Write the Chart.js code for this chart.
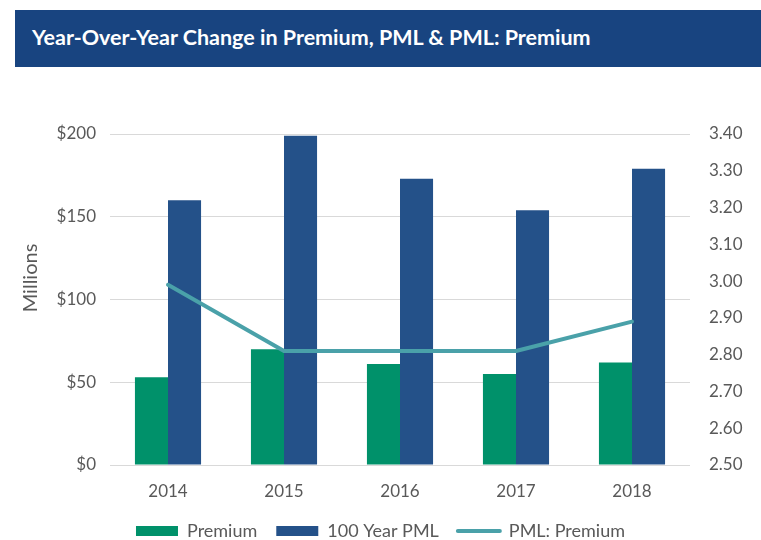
<!DOCTYPE html>
<html>
<head>
<meta charset="utf-8">
<script src="https://cdn.jsdelivr.net/npm/chart.js@4.4.1/dist/chart.umd.min.js"></script>
<style>
  html, body { margin: 0; padding: 0; background: #ffffff; }
  #wrap { position: relative; width: 761px; height: 540px; overflow: hidden; }
  #banner { position: absolute; left: 15px; top: 10px; width: 746px; height: 57px; background: #184480; }
  #banner span { position: absolute; left: 17px; top: 14px; color: #ffffff; font-family: Lato, "DejaVu Sans", sans-serif; font-weight: bold; font-size: 21.5px; white-space: nowrap; }
  #c { position: absolute; left: 0; top: 0; }
</style>
</head>
<body>
<div id="wrap">
  <canvas id="c" width="761" height="560"></canvas>
  <div id="banner"><span>Year-Over-Year Change in Premium, PML &amp; PML: Premium</span></div>
</div>
<script>
const years = ["2014", "2015", "2016", "2017", "2018"];
const premium = [53, 70, 61, 55, 62];
const pml100 = [160, 199, 173, 154, 179];
const pmlRatio = [2.99, 2.81, 2.81, 2.81, 2.89];
const leftTicks = [0, 50, 100, 150, 200];
const rightTicks = [2.5, 2.6, 2.7, 2.8, 2.9, 3.0, 3.1, 3.2, 3.3, 3.4];

const GREEN = "#00916a";
const BLUE = "#245189";
const TEAL = "#4aa1a9";
const TXT = "#595959";
const FONT = "Lato, 'Open Sans', sans-serif";

const millionsTitle = {
  id: "millionsTitle",
  afterDraw(chart) {
    const ctx = chart.ctx;
    ctx.save();
    ctx.translate(31, 278);
    ctx.rotate(-Math.PI / 2);
    ctx.font = "20px " + FONT;
    ctx.fillStyle = TXT;
    ctx.textAlign = "center";
    ctx.textBaseline = "middle";
    ctx.fillText("Millions", 0, 0);
    ctx.restore();
  }
};

new Chart(document.getElementById("c"), {
  type: "bar",
  data: {
    labels: years,
    datasets: [
      { label: "PML: Premium", type: "line", data: pmlRatio, yAxisID: "y2",
        borderColor: TEAL, backgroundColor: TEAL, borderWidth: 4, pointRadius: 0,
        tension: 0, order: 0, borderCapStyle: "round", borderJoinStyle: "round" },
      { label: "Premium", data: premium, yAxisID: "y", backgroundColor: GREEN, order: 1 },
      { label: "100 Year PML", data: pml100, yAxisID: "y", backgroundColor: BLUE, order: 1 }
    ]
  },
  options: {
    responsive: false,
    animation: false,
    devicePixelRatio: 1,
    layout: { padding: { top: 134, left: 0, right: 0, bottom: 10 } },
    datasets: { bar: { categoryPercentage: 0.57, barPercentage: 1.0 } },
    plugins: {
      tooltip: { enabled: false },
      legend: {
        position: "bottom",
        labels: {
          font: { family: FONT, size: 18 },
          color: TXT,
          usePointStyle: true,
          pointStyleWidth: 42,
          boxHeight: 10,
          padding: 19,
          sort: (a, b) => [1, 2, 0].indexOf(a.datasetIndex) - [1, 2, 0].indexOf(b.datasetIndex),
          generateLabels(chart) {
            const items = Chart.defaults.plugins.legend.labels.generateLabels(chart);
            items.forEach(it => {
              const ds = chart.data.datasets[it.datasetIndex];
              if (ds.type === "line") {
                it.pointStyle = "line"; it.strokeStyle = TEAL; it.lineWidth = 4; it.lineCap = "round";
              } else {
                it.pointStyle = "rect"; it.fillStyle = ds.backgroundColor; it.lineWidth = 0; it.strokeStyle = ds.backgroundColor;
              }
            });
            return items;
          }
        }
      }
    },
    scales: {
      x: {
        grid: { display: false, drawTicks: false },
        border: { display: false },
        ticks: { color: TXT, font: { family: FONT, size: 17 }, padding: 16 },
        afterFit(s) { s.height = 38; }
      },
      y: {
        position: "left",
        min: 0, max: 200,
        afterBuildTicks(s) { s.ticks = leftTicks.map(v => ({ value: v })); },
        grid: { color: "#d9d9d9", lineWidth: 1, drawTicks: false },
        border: { display: false },
        ticks: { color: TXT, font: { family: FONT, size: 17 }, padding: 14, callback: v => "$" + v },
        afterFit(s) { s.width = 110; }
      },
      y2: {
        position: "right",
        min: 2.5, max: 3.4,
        afterBuildTicks(s) { s.ticks = rightTicks.map(v => ({ value: v })); },
        grid: { display: false, drawTicks: false },
        border: { display: false },
        ticks: { color: TXT, font: { family: FONT, size: 17 }, padding: 19, callback: v => Number(v).toFixed(2) },
        afterFit(s) { s.width = 71; }
      }
    }
  },
  plugins: [millionsTitle]
});
</script>
</body>
</html>
